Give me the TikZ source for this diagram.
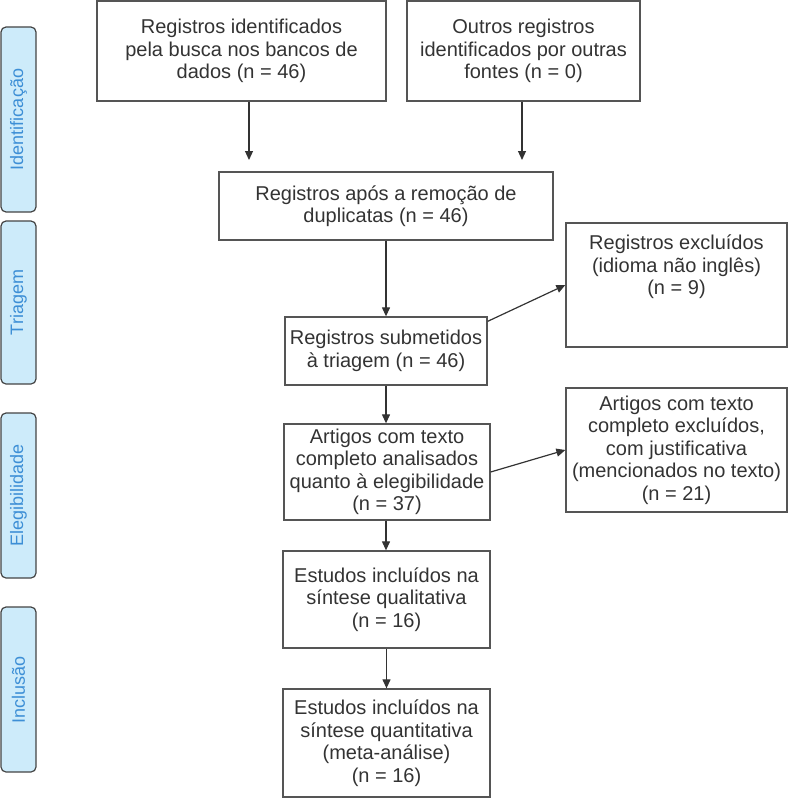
\documentclass[tikz,border=0pt]{standalone}
\usepackage{fontspec}
\setmainfont{Liberation Sans}
\usetikzlibrary{arrows.meta}
\definecolor{edge}{HTML}{555555}
\definecolor{txt}{HTML}{333333}
\definecolor{sidefill}{HTML}{CDEBFA}
\definecolor{sidetxt}{HTML}{3D8FD6}
\definecolor{sideedge}{HTML}{444444}
\begin{document}
\begin{tikzpicture}[x=1pt,y=-1pt,
  box/.style={draw=edge, line width=1.3pt, rectangle, inner sep=0pt, align=center,
    text=txt, font=\fontsize{20}{22.5}\selectfont},
  plain/.style={inner sep=0pt, align=center, text=txt, font=\fontsize{20}{22.5}\selectfont},
  side/.style={draw=sideedge, fill=sidefill, line width=1.2pt, rounded corners=5pt,
    rotate=90, inner sep=0pt, minimum height=35pt, text=sidetxt,
    font=\fontsize{18}{20}\selectfont},
  arr/.style={draw=txt, line width=1.2pt, -{Triangle[length=9pt,width=8pt]}}
]
\useasboundingbox (0,0) rectangle (790,800);

% side labels
\node[side, minimum width=185pt] (s1) at (18.5,119.5) {Identificação};
\node[side, minimum width=163pt] (s2) at (18.5,302.5) {Triagem};
\node[side, minimum width=165pt] (s3) at (18.5,495.5) {Elegibilidade};
\node[side, minimum width=165pt] (s4) at (18.5,689.5) {Inclusão};

% main boxes
\node[box, minimum width=289pt, minimum height=100pt] (A) at (241.5,51)
  {Registros identificados\\pela busca nos bancos de\\dados (n = 46)};
\node[box, minimum width=233pt, minimum height=100pt] (B) at (523.5,51)
  {Outros registros\\identificados por outras\\fontes (n = 0)};
\node[box, minimum width=334pt, minimum height=68pt] (C) at (386,206)
  {Registros após a remoção de\\duplicatas (n = 46)};
\node[box, minimum width=202pt, minimum height=68pt] (D) at (386,351)
  {Registros submetidos\\à triagem (n = 46)};
\node[box, minimum width=206pt, minimum height=96pt] (E) at (387,472)
  {Artigos com texto\\completo analisados\\quanto à elegibilidade\\(n = 37)};
\node[box, minimum width=207pt, minimum height=97pt] (F) at (386.5,599.5)
  {Estudos incluídos na\\síntese qualitativa\\(n = 16)};
\node[box, minimum width=207pt, minimum height=108pt] (G) at (386.5,743)
  {Estudos incluídos na\\síntese quantitativa\\(meta-análise)\\(n = 16)};

% exclusion boxes
\node[box, minimum width=221pt, minimum height=124pt] (X1) at (676.5,285) {};
\node[plain] (X1t) at (676.5,267) {Registros excluídos\\(idioma não inglês)\\(n = 9)};
\node[box, minimum width=221pt, minimum height=124pt] (X2) at (676.5,450)
  {Artigos com texto\\completo excluídos,\\com justificativa\\(mencionados no texto)\\(n = 21)};

% connectors
\coordinate (a1) at (249,160);
\coordinate (a2) at (522,160);
\draw[arr] (A.south -| a1) -- (a1);
\draw[arr] (B.south -| a2) -- (a2);
\draw[arr] (C.south) -- (C.south |- D.north);
\draw[arr] (D.south) -- (D.south |- E.north);
\draw[arr] (D.south |- E.south) -- (D.south |- F.north);
\draw[arr] (F.south) -- (G.north);
\draw[arr] ([yshift=-5pt]D.north east) -- (X1.west);
\draw[arr] (E.east) -- (X2.west);
\end{tikzpicture}
\end{document}
